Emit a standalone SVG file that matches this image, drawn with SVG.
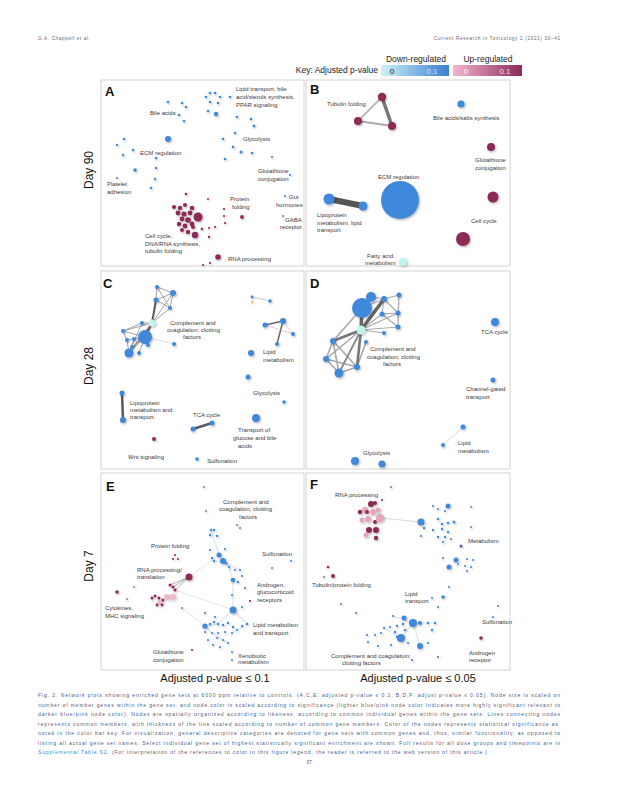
<svg xmlns="http://www.w3.org/2000/svg" width="618" height="800" viewBox="0 0 618 800">
<defs>
<filter id="sh" x="-50%" y="-50%" width="200%" height="200%"><feDropShadow dx="1" dy="1.2" stdDeviation="0.8" flood-color="#000" flood-opacity="0.3"/></filter>
<linearGradient id="gb" x1="0" x2="1" y1="0" y2="0"><stop offset="0" stop-color="#cdf1f8"/><stop offset="1" stop-color="#3b7fd2"/></linearGradient>
<linearGradient id="gp" x1="0" x2="1" y1="0" y2="0"><stop offset="0" stop-color="#f3b6cd"/><stop offset="1" stop-color="#8b2a5c"/></linearGradient>
</defs>
<style>
text{font-family:"Liberation Sans",Arial,sans-serif;fill:#333}
.lbl{font-size:6px;fill:#3a3a3a}
.pl{font-size:13px;font-weight:bold;fill:#111}
.day{font-size:12px;fill:#111}
.ax{font-size:11px;fill:#111}
.key{font-size:8.5px;fill:#222}
.cap{font-size:5px;fill:#4a5a7a}
.hd{font-size:4.6px;fill:#666}
.frame{fill:#fff;stroke:#c8c8c8;stroke-width:0.8}
.nodes{filter:url(#sh)}
.b{fill:#3f88da}
.m{fill:#8d2a56}
.p{fill:#e7a3bd}
.c{fill:#c4f2ee}
.g{fill:#7c7c90}
.e{stroke:#a0a0a0;stroke-width:1;fill:none}
.ed{stroke:#5a5a5a;fill:none}
.el{stroke:#c8c8c8;stroke-width:0.6;fill:none}
</style>
<rect width="618" height="800" fill="#fff"/>
<g id="header">
<text class="hd" x="38" y="40" textLength="52" lengthAdjust="spacing">G.A. Chappell et al.</text>
<text class="hd" x="434" y="40" textLength="126" lengthAdjust="spacing">Current Research in Toxicology 2 (2021) 30–41</text>
</g>
<g id="key">
<text class="key" x="416" y="62" text-anchor="middle">Down-regulated</text>
<text class="key" x="488" y="62" text-anchor="middle">Up-regulated</text>
<text class="key" x="378" y="73" text-anchor="end">Key: Adjusted p-value</text>
<rect x="381" y="65" width="68" height="11" fill="url(#gb)"/>
<rect x="453" y="65" width="69" height="11" fill="url(#gp)"/>
<text class="key" x="392" y="73.5" text-anchor="middle" style="font-size:8px">0</text>
<text class="key" x="432" y="73.5" text-anchor="middle" style="font-size:8px;fill:#dde">0.1</text>
<text class="key" x="466" y="73.5" text-anchor="middle" style="font-size:8px;fill:#fff">0</text>
<text class="key" x="505" y="73.5" text-anchor="middle" style="font-size:8px;fill:#f4dde6">0.1</text>
</g>
<g id="day-labels">
<text class="day" transform="translate(93,170) rotate(-90)" text-anchor="middle">Day 90</text>
<text class="day" transform="translate(93,366) rotate(-90)" text-anchor="middle">Day 28</text>
<text class="day" transform="translate(93,566) rotate(-90)" text-anchor="middle">Day 7</text>
</g>
<g id="frames">
<rect class="frame" x="101" y="80" width="203" height="186"/>
<rect class="frame" x="306" y="80" width="204" height="186"/>
<rect class="frame" x="101" y="271" width="203" height="198"/>
<rect class="frame" x="306" y="271" width="204" height="198"/>
<rect class="frame" x="101" y="473" width="203" height="197"/>
<rect class="frame" x="306" y="473" width="204" height="197"/>
</g>
<g id="connectors">
<line class="e" x1="382" y1="97" x2="358" y2="121" style="stroke:#b8b8b8;stroke-width:1.8"/>
<line class="ed" x1="382" y1="97" x2="392" y2="126" style="stroke-width:3.5;stroke:#777"/>
<line class="e" x1="358" y1="121" x2="392" y2="126" style="stroke:#aaa;stroke-width:2"/>
<line class="ed" x1="329" y1="199" x2="363" y2="206" style="stroke-width:6;stroke:#555"/>
<g class="e" style="stroke:#9a9a9a;stroke-width:0.9">
<path d="M157 287L173 293M157 287L156 300M173 293L156 300M173 293L170 308M156 300L170 308M157 287L170 308M170 308L152 323M173 293L152 323"/>
<path d="M152 323L142 323M152 323L123 331M123 331L127 340M123 331L145 337M127 340L145 337M134 339L145 337M132 347L145 337M129 353L145 337M129 353L127 340M129 353L132 347M139 353L145 337M142 323L129 353M142 323L123 331M134 339L129 353"/>
</g>
<path class="ed" d="M156 300L152 323" style="stroke-width:2"/>
<path class="ed" d="M152 323L145 337" style="stroke-width:2.5"/>
<path class="ed" d="M152 323L129 353" style="stroke-width:1.5;stroke:#888"/>
<line class="el" x1="145" y1="337" x2="174" y2="344"/>
<line class="el" x1="252" y1="297" x2="270" y2="301" style="stroke:#aaa"/>
<path class="ed" d="M265 325L283 321L277 344" style="stroke-width:1.5;stroke:#666"/>
<path class="el" d="M265 325L293 334M283 321L293 334" style="stroke:#d9a8b8"/>
<line class="ed" x1="122" y1="393" x2="123" y2="420" style="stroke-width:2.5"/>
<line class="ed" x1="193" y1="429" x2="212" y2="423" style="stroke-width:2.5"/>
<g class="e" style="stroke:#a8a8a8;stroke-width:1.1">
<path d="M362 308L384 299M371 297L384 299M384 299L399 295M384 299L398 313M399 295L398 313M382 314L398 313M384 299L382 314M361 330L382 314M361 330L398 313M361 330L398 327M361 330L384 333M398 313L398 327M399 295L398 327M382 314L398 327"/>
<path d="M333 341L326 359M333 341L357 367M333 341L339 373M326 359L357 367M326 359L339 373M357 367L339 373M362 308L333 341M366 342L357 367M361 330L326 359" style="stroke-width:1.6"/>
</g>
<path class="ed" d="M362 308L361 330M361 330L384 299" style="stroke-width:3.5;stroke:#666"/>
<path class="ed" d="M361 330L357 367M361 330L333 341" style="stroke-width:2.6;stroke:#777"/>
<path class="ed" d="M361 330L339 373" style="stroke-width:1.8;stroke:#888"/>
<line class="el" x1="463" y1="427" x2="443" y2="445" style="stroke:#bbb"/>
<path class="e" d="M189 577L173 587M189 577L175 590M189 577L170 585" style="stroke:#999;stroke-width:0.8"/>
<path class="el" d="M175 590L233 610M182 608L205 626M189 577L219 555" style="stroke:#e0d0d6"/>
<path class="el" d="M211 530L219 555L229 567L233 580L233 610L218 624L205 626M214 561L226 563L240 570M233 610L247 624L232 633M205 626L212 633L228 643" style="stroke:#d6e6f6;stroke-width:1.2"/>
<line class="el" x1="380" y1="518" x2="421" y2="522" style="stroke:#c0c0c0"/>
<path class="el" d="M393 616L413 623L420 646M401 638L413 623M384 628L401 638M413 623L428 623" style="stroke:#d8e6f4;stroke-width:1.2"/>
</g>
<g id="panel-a">
<text class="pl" x="105" y="96">A</text>
<g id="a-lipid" class="nodes">
<circle class="b" cx="210" cy="93" r="1.3"/><circle class="b" cx="215" cy="93" r="1.3"/><circle class="b" cx="206" cy="97" r="1.3"/><circle class="b" cx="220" cy="97" r="1.3"/><circle class="b" cx="230" cy="97" r="1.3"/><circle class="b" cx="210" cy="102" r="1.3"/><circle class="b" cx="218" cy="103" r="1.3"/><circle class="b" cx="208" cy="111" r="1.3"/><circle class="b" cx="216" cy="114" r="2.2"/>
</g>
<text class="lbl" x="236" y="91">Lipid transport, bile</text>
<text class="lbl" x="236" y="99">acid/sterols synthesis,</text>
<text class="lbl" x="236" y="107">PPAR signaling</text>
<g id="a-bile" class="nodes">
<circle class="b" cx="168" cy="102" r="1.3"/><circle class="b" cx="182" cy="103" r="1.3"/><circle class="b" cx="186" cy="107" r="1.3"/><circle class="b" cx="179" cy="115" r="1.3"/><circle class="b" cx="184" cy="121" r="1.3"/>
</g>
<text class="lbl" x="150" y="115">Bile acids</text>
<g id="a-glycolysis" class="nodes">
<circle class="b" cx="237" cy="117" r="1.3"/><circle class="b" cx="251" cy="119" r="1.3"/><circle class="b" cx="254" cy="126" r="1.4"/><circle class="b" cx="235" cy="133" r="1.3"/><circle class="b" cx="223" cy="139" r="1.3"/><circle class="b" cx="233" cy="147" r="1.3"/><circle class="b" cx="241" cy="152" r="1.5"/><circle class="b" cx="252" cy="153" r="1.3"/><circle class="b" cx="225" cy="159" r="1.3"/><circle class="g" cx="272" cy="157" r="1.1"/>
</g>
<text class="lbl" x="243" y="141">Glycolysis</text>
<g id="a-ecm" class="nodes">
<circle class="b" cx="168" cy="139" r="3"/><circle class="b" cx="124" cy="139" r="1.3"/><circle class="b" cx="117" cy="145" r="1.2"/><circle class="b" cx="133" cy="150" r="1.3"/><circle class="b" cx="123" cy="155" r="1.2"/><circle class="b" cx="156" cy="158" r="1.3"/><circle class="b" cx="135" cy="170" r="1.8"/><circle class="b" cx="156" cy="168" r="1.2"/><circle class="b" cx="155" cy="179" r="1.2"/><circle class="b" cx="151" cy="188" r="1.2"/>
</g>
<text class="lbl" x="140" y="155">ECM regulation</text>
<g id="a-platelet" class="nodes"><circle class="g" cx="117" cy="178" r="1.1"/></g>
<text class="lbl" x="107" y="186">Platelet</text>
<text class="lbl" x="107" y="194">adhesion</text>
<g id="a-glutathione" class="nodes"><circle class="b" cx="290" cy="175" r="1.1"/></g>
<text class="lbl" x="258" y="173">Glutathione</text>
<text class="lbl" x="258" y="181">conjugation</text>
<g id="a-gut" class="nodes"><circle class="b" cx="285" cy="196" r="1.1"/></g>
<text class="lbl" x="289" y="199">Gut</text>
<text class="lbl" x="276" y="207">hormones</text>
<g id="a-gaba" class="nodes"><circle class="g" cx="283" cy="216" r="1"/></g>
<text class="lbl" x="285" y="222">GABA</text>
<text class="lbl" x="280" y="229">receptor</text>
<g id="a-cellcycle" class="nodes">
<circle class="m" cx="186" cy="194" r="1.3"/><circle class="m" cx="174" cy="207" r="2"/><circle class="m" cx="180" cy="208" r="2.2"/><circle class="m" cx="185" cy="205" r="2"/><circle class="m" cx="192" cy="208" r="2.3"/><circle class="m" cx="178" cy="213" r="2.4"/><circle class="m" cx="184" cy="214" r="2.6"/><circle class="m" cx="190" cy="213" r="2.4"/><circle class="m" cx="182" cy="219" r="2.4"/><circle class="m" cx="188" cy="220" r="2.8"/><circle class="m" cx="179" cy="224" r="2.2"/><circle class="m" cx="185" cy="226" r="2.4"/><circle class="m" cx="192" cy="224" r="2.4"/><circle class="m" cx="182" cy="230" r="2"/><circle class="m" cx="188" cy="232" r="2.2"/><circle class="m" cx="193" cy="227" r="2"/><circle class="m" cx="202" cy="229" r="1.3"/><circle class="m" cx="195" cy="235" r="3.2"/><circle class="m" cx="209" cy="237" r="1.2"/><circle class="m" cx="209" cy="228" r="1.1"/><circle class="m" cx="215" cy="227" r="1.1"/><circle class="m" cx="198" cy="217" r="4.5"/>
</g>
<text class="lbl" x="145" y="238">Cell cycle,</text>
<text class="lbl" x="145" y="246">DNA/RNA synthesis,</text>
<text class="lbl" x="145" y="253">tubulin folding</text>
<g id="a-protein" class="nodes">
<circle class="m" cx="224" cy="209" r="1.1"/><circle class="m" cx="224" cy="216" r="1.1"/><circle class="m" cx="225" cy="223" r="1.1"/><circle class="m" cx="242" cy="217" r="1.9"/><circle class="m" cx="208" cy="199" r="1"/>
</g>
<text class="lbl" x="230" y="201">Protein</text>
<text class="lbl" x="232" y="209">folding</text>
<g id="a-rna" class="nodes">
<circle class="m" cx="218" cy="257" r="2.8"/><circle class="m" cx="203" cy="265" r="1.1"/><circle class="m" cx="210" cy="263" r="1.1"/>
</g>
<text class="lbl" x="228" y="261">RNA processing</text>
</g>
<g id="panel-b">
<text class="pl" x="310" y="94">B</text>
<g id="b-tubulin" class="nodes"><circle class="m" cx="382" cy="97" r="4.2"/><circle class="m" cx="358" cy="121" r="4"/><circle class="m" cx="392" cy="126" r="4"/></g>
<text class="lbl" x="327" y="106">Tubulin folding</text>
<g id="b-bile" class="nodes"><circle class="b" cx="461" cy="104" r="3.6"/></g>
<text class="lbl" x="433" y="120">Bile acids/salts synthesis</text>
<g id="b-glutathione" class="nodes"><circle class="m" cx="491" cy="147" r="4"/></g>
<text class="lbl" x="475" y="162">Glutathione</text>
<text class="lbl" x="475" y="170">conjugation</text>
<g id="b-ecm" class="nodes"><circle class="b" cx="400" cy="200" r="19"/></g>
<text class="lbl" x="378" y="179">ECM regulation</text>
<g id="b-lipoprotein" class="nodes"><circle class="b" cx="329" cy="199" r="5.5"/><circle class="b" cx="363" cy="206" r="4.5"/></g>
<text class="lbl" x="317" y="217">Lipoprotein</text>
<text class="lbl" x="317" y="225">metabolism, lipid</text>
<text class="lbl" x="317" y="232">transport</text>
<g id="b-cellcycle" class="nodes"><circle class="m" cx="493" cy="197" r="5.5"/><circle class="m" cx="463" cy="239" r="7"/></g>
<text class="lbl" x="471" y="223">Cell cycle</text>
<g id="b-fatty" class="nodes"><circle class="c" cx="403" cy="262" r="4"/></g>
<text class="lbl" x="367" y="258">Fatty acid</text>
<text class="lbl" x="365" y="265">metabolism</text>
</g>
<g id="panel-c">
<text class="pl" x="103" y="288">C</text>
<g id="c-complement" class="nodes">
<circle class="b" cx="157" cy="287" r="2"/><circle class="b" cx="173" cy="293" r="3"/><circle class="b" cx="156" cy="300" r="2.5"/><circle class="b" cx="170" cy="308" r="2"/><circle class="b" cx="142" cy="323" r="2"/><circle class="b" cx="123" cy="331" r="2"/><circle class="b" cx="127" cy="340" r="2"/><circle class="b" cx="134" cy="339" r="2"/><circle class="b" cx="132" cy="347" r="2"/><circle class="b" cx="148" cy="345" r="2"/><circle class="b" cx="129" cy="353" r="4.5"/><circle class="b" cx="139" cy="353" r="2"/><circle class="b" cx="174" cy="344" r="2"/><circle class="b" cx="145" cy="337" r="7"/><circle class="c" cx="152" cy="323" r="3.5"/>
</g>
<text class="lbl" x="170" y="325">Complement and</text>
<text class="lbl" x="167" y="332">coagulation; clotting</text>
<text class="lbl" x="183" y="339">factors</text>
<g id="c-lipid" class="nodes">
<circle class="b" cx="252" cy="297" r="1.4"/><circle fill="#f2a65a" cx="252" cy="302" r="1"/><circle class="b" cx="270" cy="301" r="1.8"/><circle class="b" cx="265" cy="325" r="2.5"/><circle class="b" cx="283" cy="321" r="3"/><circle class="b" cx="293" cy="334" r="2"/><circle class="b" cx="277" cy="344" r="2"/><circle class="b" cx="251" cy="353" r="3"/><circle class="b" cx="248" cy="377" r="2.5"/>
</g>
<text class="lbl" x="263" y="354">Lipid</text>
<text class="lbl" x="263" y="362">metabolism</text>
<g id="c-glycolysis" class="nodes"><circle class="b" cx="284" cy="402" r="1.8"/></g>
<text class="lbl" x="253" y="395">Glycolysis</text>
<g id="c-lipoprotein" class="nodes"><circle class="b" cx="122" cy="393" r="2.5"/><circle class="b" cx="123" cy="420" r="3"/></g>
<text class="lbl" x="130" y="405">Lipoprotein</text>
<text class="lbl" x="130" y="412">metabolism and</text>
<text class="lbl" x="130" y="419">transport</text>
<g id="c-tca" class="nodes"><circle class="b" cx="193" cy="429" r="2.5"/><circle class="b" cx="212" cy="423" r="2.5"/></g>
<text class="lbl" x="193" y="417">TCA cycle</text>
<g id="c-transport" class="nodes"><circle class="b" cx="256" cy="418" r="4"/></g>
<text class="lbl" x="238" y="432">Transport of</text>
<text class="lbl" x="233" y="440">glucose and bile</text>
<text class="lbl" x="238" y="448">acids</text>
<g id="c-wnt" class="nodes"><circle class="m" cx="154" cy="439" r="2"/></g>
<text class="lbl" x="128" y="459">Wnt signaling</text>
<g id="c-sulfonation" class="nodes"><circle class="b" cx="197" cy="459" r="1.8"/></g>
<text class="lbl" x="207" y="463">Sulfonation</text>
</g>
<g id="panel-d">
<text class="pl" x="310" y="288">D</text>
<g id="d-complement" class="nodes">
<circle class="b" cx="371" cy="297" r="5"/><circle class="b" cx="362" cy="308" r="10"/><circle class="b" cx="384" cy="299" r="3"/><circle class="b" cx="399" cy="295" r="2.5"/><circle class="b" cx="382" cy="314" r="2.5"/><circle class="b" cx="398" cy="313" r="2.5"/><circle class="b" cx="398" cy="327" r="2.5"/><circle class="b" cx="384" cy="333" r="2"/><circle class="b" cx="366" cy="342" r="2"/><circle class="b" cx="333" cy="341" r="3"/><circle class="b" cx="326" cy="359" r="3"/><circle class="b" cx="357" cy="367" r="3"/><circle class="b" cx="339" cy="373" r="4.5"/><circle class="c" cx="361" cy="330" r="4.5"/>
</g>
<text class="lbl" x="370" y="351">Complement and</text>
<text class="lbl" x="367" y="359">coagulation; clotting</text>
<text class="lbl" x="383" y="366">factors</text>
<g id="d-tca" class="nodes"><circle class="b" cx="495" cy="322" r="4"/></g>
<text class="lbl" x="481" y="334">TCA cycle</text>
<g id="d-channel" class="nodes"><circle class="b" cx="493" cy="380" r="2.5"/></g>
<text class="lbl" x="466" y="391">Channel-gated</text>
<text class="lbl" x="466" y="399">transport</text>
<g id="d-lipid" class="nodes"><circle class="b" cx="463" cy="427" r="2.5"/><circle class="b" cx="443" cy="445" r="2"/></g>
<text class="lbl" x="458" y="445">Lipid</text>
<text class="lbl" x="458" y="453">metabolism</text>
<g id="d-glycolysis" class="nodes"><circle class="b" cx="355" cy="461" r="4"/><circle class="b" cx="382" cy="464" r="3.5"/></g>
<text class="lbl" x="363" y="455">Glycolysis</text>
</g>
<g id="panel-e">
<text class="pl" x="106" y="491">E</text>
<g id="e-complement" class="nodes">
<circle class="g" cx="204" cy="487" r="1"/><circle class="g" cx="206" cy="511" r="1"/><circle class="g" cx="237" cy="525" r="1"/><circle class="g" cx="240" cy="528" r="1"/>
<circle class="b" cx="211" cy="530" r="1.2"/><circle class="b" cx="214" cy="530" r="1.2"/><circle class="b" cx="210" cy="535" r="1.2"/><circle class="b" cx="217" cy="536" r="1.2"/><circle class="b" cx="210" cy="550" r="1.1"/><circle class="b" cx="225" cy="549" r="1.1"/><circle class="b" cx="219" cy="555" r="2.5"/><circle class="b" cx="212" cy="558" r="1.2"/><circle class="b" cx="214" cy="561" r="1.2"/><circle class="b" cx="223" cy="561" r="3"/><circle class="b" cx="226" cy="563" r="1.5"/><circle class="b" cx="229" cy="567" r="1.2"/>
</g>
<text class="lbl" x="223" y="504">Complement and</text>
<text class="lbl" x="219" y="511">coagulation; clotting</text>
<text class="lbl" x="239" y="519">factors</text>
<g id="e-protein" class="nodes"><circle class="m" cx="175" cy="555" r="1"/><circle class="m" cx="173" cy="559" r="1"/><circle class="m" cx="178" cy="559" r="1"/></g>
<text class="lbl" x="151" y="548">Protein folding</text>
<g id="e-sulfonation" class="nodes"><circle class="g" cx="272" cy="568" r="1"/><circle class="b" cx="291" cy="561" r="1"/></g>
<text class="lbl" x="262" y="556">Sulfonation</text>
<g id="e-rna" class="nodes">
<circle class="p" cx="167" cy="597" r="3" opacity="0.7"/><circle class="p" cx="173" cy="597" r="3.5" opacity="0.6"/><circle class="p" cx="160" cy="602" r="3" opacity="0.6"/>
<circle class="m" cx="170" cy="585" r="1.5"/><circle class="m" cx="173" cy="587" r="1.5"/><circle class="m" cx="175" cy="590" r="1.5"/><circle class="m" cx="155" cy="596" r="1.5"/><circle class="m" cx="152" cy="598" r="1.5"/><circle class="m" cx="159" cy="598" r="1.5"/><circle class="m" cx="163" cy="600" r="1.5"/><circle class="m" cx="157" cy="605" r="1.4"/><circle class="m" cx="162" cy="605" r="1.4"/><circle class="m" cx="189" cy="577" r="3.5"/>
</g>
<text class="lbl" x="137" y="572">RNA processing/</text>
<text class="lbl" x="137" y="579">translation</text>
<g id="e-cytokines" class="nodes"><circle class="m" cx="117" cy="592" r="1.8"/><circle class="g" cx="134" cy="587" r="0.9"/><circle class="g" cx="127" cy="599" r="0.9"/><circle class="g" cx="182" cy="608" r="1"/></g>
<text class="lbl" x="105" y="610">Cytokines,</text>
<text class="lbl" x="105" y="618">MHC signaling</text>
<g id="e-androgen" class="nodes">
<circle class="b" cx="235" cy="570" r="1.1"/><circle class="b" cx="240" cy="570" r="1.1"/><circle class="b" cx="233" cy="580" r="2.3"/><circle class="b" cx="238" cy="582" r="1.2"/><circle class="b" cx="242" cy="576" r="1.1"/><circle class="b" cx="245" cy="588" r="1.1"/><circle class="b" cx="232" cy="595" r="1.1"/><circle class="m" cx="250" cy="601" r="1.1"/>
</g>
<text class="lbl" x="257" y="587">Androgen,</text>
<text class="lbl" x="257" y="594">glucocorticoid</text>
<text class="lbl" x="257" y="602">receptors</text>
<g id="e-lipid" class="nodes">
<circle class="b" cx="233" cy="610" r="3.5"/><circle class="b" cx="242" cy="607" r="1.1"/><circle class="b" cx="205" cy="613" r="1.1"/><circle class="b" cx="215" cy="617" r="1.1"/>
<circle class="b" cx="205" cy="626" r="2.6"/><circle class="b" cx="210" cy="624" r="1.2"/><circle class="b" cx="214" cy="622" r="1.2"/><circle class="b" cx="218" cy="624" r="1.2"/><circle class="b" cx="223" cy="625" r="1.2"/><circle class="b" cx="228" cy="623" r="1.2"/><circle class="b" cx="233" cy="627" r="1.2"/><circle class="b" cx="242" cy="626" r="1.2"/><circle class="b" cx="247" cy="624" r="1.2"/><circle class="b" cx="205" cy="632" r="1.1"/><circle class="b" cx="212" cy="633" r="1.1"/><circle class="b" cx="218" cy="633" r="1.1"/><circle class="b" cx="225" cy="632" r="1.1"/><circle class="b" cx="232" cy="633" r="1.1"/><circle class="b" cx="237" cy="630" r="1.1"/><circle class="b" cx="208" cy="640" r="1.1"/><circle class="b" cx="217" cy="638" r="1.1"/><circle class="b" cx="223" cy="640" r="1.1"/><circle class="b" cx="213" cy="645" r="1.1"/><circle class="b" cx="220" cy="647" r="1.1"/><circle class="b" cx="228" cy="643" r="1.1"/>
</g>
<text class="lbl" x="253" y="627">Lipid metabolism</text>
<text class="lbl" x="253" y="635">and transport</text>
<g id="e-glutathione" class="nodes"><circle class="m" cx="192" cy="650" r="1"/></g>
<text class="lbl" x="153" y="654">Glutathione</text>
<text class="lbl" x="153" y="662">conjugation</text>
<g id="e-xeno" class="nodes"><circle class="b" cx="232" cy="652" r="1"/><circle class="b" cx="232" cy="660" r="1"/></g>
<text class="lbl" x="238" y="658">Xenobiotic</text>
<text class="lbl" x="238" y="664">metabolism</text>
</g>
<g id="panel-f">
<text class="pl" x="310" y="489">F</text>
<g id="f-rna" class="nodes">
<circle class="g" cx="391" cy="487" r="1"/><circle class="m" cx="382" cy="500" r="1"/>
<circle class="p" cx="365" cy="510" r="3"/><circle class="p" cx="373" cy="512" r="3"/><circle class="p" cx="368" cy="519" r="3"/><circle class="p" cx="362" cy="520" r="2.5"/><circle class="p" cx="366" cy="535" r="2.5"/><circle class="p" cx="378" cy="510" r="2.5"/>
<circle class="m" cx="371" cy="504" r="3"/><circle class="m" cx="375" cy="503" r="2"/><circle class="m" cx="360" cy="512" r="2.2"/><circle class="m" cx="367" cy="512" r="2"/><circle class="m" cx="375" cy="522" r="2"/><circle class="m" cx="369" cy="530" r="3"/><circle class="m" cx="376" cy="530" r="3"/><circle class="m" cx="376" cy="538" r="2.2"/><circle class="p" cx="380" cy="518" r="4"/>
</g>
<text class="lbl" x="335" y="497">RNA processing</text>
<g id="f-metabolism" class="nodes">
<circle class="b" cx="421" cy="522" r="3.5"/><circle class="b" cx="448" cy="506" r="2.5"/><circle class="b" cx="433" cy="506" r="1.1"/><circle class="b" cx="438" cy="509" r="1.1"/><circle class="b" cx="445" cy="511" r="1.1"/><circle class="b" cx="438" cy="519" r="1.3"/><circle class="b" cx="442" cy="524" r="1.3"/><circle class="b" cx="448" cy="523" r="1.3"/><circle class="b" cx="454" cy="522" r="1.5"/><circle class="b" cx="424" cy="528" r="1.2"/><circle class="b" cx="433" cy="530" r="1.2"/><circle class="b" cx="442" cy="529" r="1.2"/><circle class="b" cx="448" cy="532" r="1.2"/><circle class="b" cx="421" cy="536" r="1.1"/><circle class="b" cx="438" cy="537" r="1.2"/><circle class="b" cx="445" cy="537" r="1.2"/><circle class="b" cx="443" cy="542" r="1.1"/><circle class="b" cx="451" cy="539" r="1.1"/><circle class="g" cx="471" cy="507" r="1"/><circle class="g" cx="471" cy="527" r="1"/><circle fill="#5a58b0" cx="461" cy="546" r="1.5"/>
<circle class="b" cx="456" cy="560" r="2.5"/><circle class="b" cx="449" cy="567" r="2.5"/><circle class="b" cx="443" cy="558" r="1.1"/><circle class="b" cx="467" cy="559" r="1"/><circle class="b" cx="473" cy="560" r="1"/><circle class="b" cx="465" cy="566" r="1"/><circle class="b" cx="471" cy="567" r="1"/><circle class="b" cx="467" cy="571" r="1"/><circle class="b" cx="458" cy="564" r="1"/>
</g>
<text class="lbl" x="468" y="543">Metabolism</text>
<g id="f-tubulin" class="nodes"><circle class="m" cx="328" cy="567" r="1.3"/><circle class="m" cx="333" cy="576" r="2"/><circle class="g" cx="324" cy="577" r="1"/></g>
<text class="lbl" x="312" y="587">Tubulin/protein  folding</text>
<g id="f-lipid" class="nodes"><circle class="b" cx="449" cy="587" r="1"/><circle class="b" cx="432" cy="598" r="1.1"/><circle class="b" cx="443" cy="597" r="1.8"/><circle class="b" cx="438" cy="607" r="1.1"/><circle class="g" cx="341" cy="604" r="1"/><circle class="b" cx="356" cy="613" r="1.1"/></g>
<text class="lbl" x="405" y="596">Lipid</text>
<text class="lbl" x="405" y="603">transport</text>
<g id="f-sulfonation" class="nodes"><circle class="g" cx="498" cy="606" r="1"/><circle class="b" cx="493" cy="617" r="1"/></g>
<text class="lbl" x="482" y="624">Sulfonation</text>
<g id="f-complement" class="nodes">
<circle class="b" cx="404" cy="618" r="2.5"/><circle class="b" cx="420" cy="623" r="2"/><circle class="b" cx="428" cy="623" r="1.2"/><circle class="b" cx="435" cy="623" r="1.2"/><circle class="b" cx="432" cy="630" r="1.2"/><circle class="b" cx="393" cy="616" r="1.1"/><circle class="b" cx="403" cy="624" r="1.2"/><circle class="b" cx="397" cy="626" r="1.2"/><circle class="b" cx="390" cy="627" r="1.1"/><circle class="b" cx="384" cy="628" r="1.1"/><circle class="b" cx="381" cy="633" r="1.1"/><circle class="b" cx="395" cy="632" r="1.2"/><circle class="b" cx="405" cy="630" r="1.2"/><circle class="b" cx="397" cy="637" r="1.2"/><circle class="b" cx="375" cy="635" r="1.1"/><circle class="b" cx="367" cy="635" r="1.1"/><circle class="b" cx="368" cy="642" r="1.1"/><circle class="b" cx="378" cy="646" r="1.1"/><circle class="b" cx="428" cy="643" r="1.1"/><circle class="b" cx="408" cy="643" r="1.1"/><circle class="b" cx="391" cy="645" r="1.1"/><circle fill="#5a58b0" cx="412" cy="660" r="1"/><circle fill="#5a58b0" cx="438" cy="657" r="1"/><circle class="b" cx="413" cy="623" r="4"/><circle class="b" cx="401" cy="638" r="4"/><circle class="b" cx="420" cy="646" r="3"/>
</g>
<text class="lbl" x="331" y="658">Complement and coagulation;</text>
<text class="lbl" x="342" y="665">clotting factors</text>
<g id="f-androgen" class="nodes"><circle class="m" cx="481" cy="638" r="1.8"/></g>
<text class="lbl" x="469" y="655">Androgen</text>
<text class="lbl" x="469" y="662">receptor</text>
</g>
<g id="axis-labels">
<text class="ax" x="215" y="682" text-anchor="middle">Adjusted p-value ≤ 0.1</text>
<text class="ax" x="418" y="682" text-anchor="middle">Adjusted p-value ≤ 0.05</text>
</g>
<g id="caption">
<text class="cap" x="38" y="697" textLength="522" lengthAdjust="spacing">Fig. 2. Network plots showing enriched gene sets at 6000 ppm relative to controls. (A,C,E: adjusted p-value ≤ 0.1, B,D,F: adjust p-value ≤ 0.05). Node size is scaled on</text>
<text class="cap" x="38" y="706.5" textLength="522" lengthAdjust="spacing">number of member genes within the gene set, and node color is scaled according to significance (lighter blue/pink node color indicates more highly significant relevant to</text>
<text class="cap" x="38" y="716" textLength="522" lengthAdjust="spacing">darker blue/pink node color). Nodes are spatially organized according to likeness, according to common individual genes within the gene sets. Lines connecting nodes</text>
<text class="cap" x="38" y="725.5" textLength="520" lengthAdjust="spacing">represents common members, with thickness of the line scaled according to number of common gene members. Color of the nodes represents statistical significance as</text>
<text class="cap" x="38" y="735" textLength="522" lengthAdjust="spacing">noted in the color bar key. For visualization, general descriptive categories are denoted for gene sets with common genes and, thus, similar functionality, as opposed to</text>
<text class="cap" x="38" y="744.5" textLength="522" lengthAdjust="spacing">listing all actual gene set names. Select individual gene set of highest statistically significant enrichment are shown. Full results for all dose groups and timepoints are in</text>
<text class="cap" x="38" y="754" textLength="449" lengthAdjust="spacing"><tspan style="fill:#2a8fd0">Supplemental Table S2</tspan>. (For interpretation of the references to color in this figure legend, the reader is referred to the web version of this article.)</text>
<text class="cap" x="309" y="764" text-anchor="middle">37</text>
</g>
</svg>
